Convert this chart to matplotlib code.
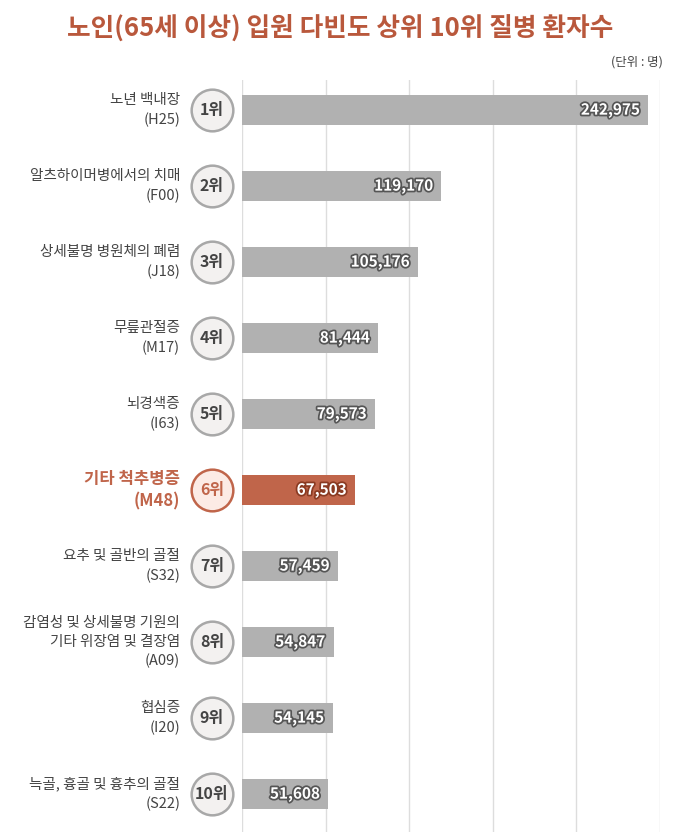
import matplotlib.pyplot as plt
import matplotlib.patheffects as pe
import matplotlib.transforms as mtransforms

plt.rcParams['font.family'] = ['Noto Sans CJK KR', 'DejaVu Sans']

# 데이터
diseases = ['노년 백내장\n(H25)', '알츠하이머병에서의 치매\n(F00)', '상세불명 병원체의 폐렴\n(J18)',
            '무릎관절증\n(M17)', '뇌경색증\n(I63)', '기타 척추병증\n(M48)', '요추 및 골반의 골절\n(S32)',
            '감염성 및 상세불명 기원의\n기타 위장염 및 결장염\n(A09)', '협심증\n(I20)',
            '늑골, 흉골 및 흉추의 골절\n(S22)']
ranks = ['1위', '2위', '3위', '4위', '5위', '6위', '7위', '8위', '9위', '10위']
patients = [242975, 119170, 105176, 81444, 79573, 67503, 57459, 54847, 54145, 51608]
highlight = 5

GRAY = '#b1b1b1'
RED = '#c0654a'
TITLE_RED = '#b9583c'

fig = plt.figure(figsize=(6.8, 8.39), dpi=100)
ax = fig.add_axes([0.3559, 0.0083, 0.6147, 0.8963])

y = list(range(len(patients)))
colors = [RED if i == highlight else GRAY for i in y]
ax.barh(y, patients, height=0.4, color=colors, zorder=2)

ax.set_xlim(0, 250000)
ax.set_ylim(9.5, -0.395)
ax.set_xticks([0, 50000, 100000, 150000, 200000, 250000])
ax.grid(axis='x', color='#dddddd', linewidth=1, zorder=0)
ax.tick_params(left=False, bottom=False, labelleft=False, labelbottom=False)
for s in ax.spines.values():
    s.set_visible(False)

trans = mtransforms.blended_transform_factory(ax.transAxes, ax.transData)

for i, (name, rk, v) in enumerate(zip(diseases, ranks, patients)):
    hl = i == highlight
    # 값 라벨
    stroke = '#8a3a22' if hl else '#555555'
    ax.text(v - 5000, i, f'{v:,}', ha='right', va='center', color='white',
            fontsize=11, fontweight='bold', zorder=4,
            path_effects=[pe.withStroke(linewidth=2.5, foreground=stroke)])
    # 순위 원
    ax.scatter([-0.0718], [i], s=900, transform=trans, clip_on=False, zorder=3,
               facecolor='#fcebe5' if hl else '#f3f1f0',
               edgecolor=RED if hl else '#a8a8a8', linewidth=1.8)
    ax.text(-0.0718, i, rk, transform=trans, ha='center', va='center',
            fontsize=11.5, fontweight='bold', color=RED if hl else '#444444', zorder=4)
    # 질병명
    ax.text(-0.148, i, name, transform=trans, ha='right', va='center',
            fontsize=12 if hl else 10.5, linespacing=1.45 if not hl else 1.35,
            fontweight='bold' if hl else 'normal',
            color=RED if hl else '#444444')

fig.text(0.5, 0.967, '노인(65세 이상) 입원 다빈도 상위 10위 질병 환자수', ha='center', va='center',
         fontsize=18.5, fontweight='heavy', color=TITLE_RED)
fig.text(0.975, 0.926, '(단위 : 명)', ha='right', va='center', fontsize=9, color='#444444')

fig.savefig('out.png', dpi=100)
